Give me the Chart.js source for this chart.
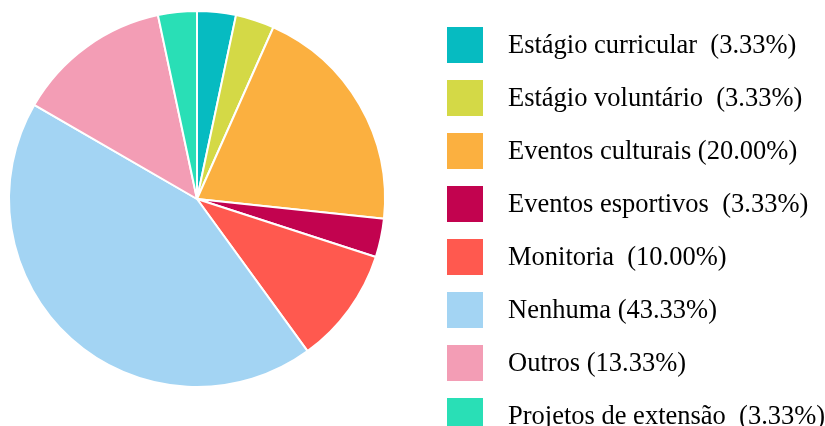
<!DOCTYPE html>
<html>
<head>
<meta charset="utf-8">
<script src="https://cdn.jsdelivr.net/npm/chart.js@4/dist/chart.umd.min.js"></script>
<style>
html,body{margin:0;padding:0;background:#fff;}
#wrap{width:825px;height:426px;position:relative;}
</style>
</head>
<body>
<div id="wrap"><canvas id="c" width="825" height="426"></canvas></div>
<script>
const categories = ["Estágio curricular","Estágio voluntário","Eventos culturais","Eventos esportivos","Monitoria","Nenhuma","Outros","Projetos de extensão"];
const values = [3.33, 3.33, 20.00, 3.33, 10.00, 43.33, 13.33, 3.33];
const colors = ["#06BBC1","#D4D946","#FBB040","#C2034F","#FF594F","#A3D4F3","#F39DB5","#29DFB6"];
const separators = ["  ","  "," ","  ","  "," "," ","  "];

const legendPlugin = {
  id: 'customLegend',
  afterDraw(chart) {
    const ctx = chart.ctx;
    const ds = chart.data.datasets[0];
    ctx.save();
    ctx.font = '26.5px "Liberation Serif", "Times New Roman", serif';
    ctx.textBaseline = 'middle';
    ctx.textAlign = 'left';
    chart.data.labels.forEach((lab, i) => {
      const y = 27 + 53 * i;
      ctx.fillStyle = ds.backgroundColor[i];
      ctx.fillRect(447, y, 36, 36);
      ctx.fillStyle = '#000';
      const txt = lab + separators[i] + '(' + ds.data[i].toFixed(2) + '%)';
      ctx.fillText(txt, 508, y + 19);
    });
    ctx.restore();
  }
};

new Chart(document.getElementById('c'), {
  type: 'pie',
  data: {
    labels: categories,
    datasets: [{
      data: values,
      backgroundColor: colors,
      borderColor: '#ffffff',
      borderWidth: 2,
      hoverOffset: 0
    }]
  },
  options: {
    responsive: false,
    animation: false,
    layout: { padding: { left: 8, top: 10, right: 825 - 8 - 378, bottom: 426 - 10 - 378 } },
    plugins: { legend: { display: false }, tooltip: { enabled: false } }
  },
  plugins: [legendPlugin]
});
</script>
</body>
</html>
